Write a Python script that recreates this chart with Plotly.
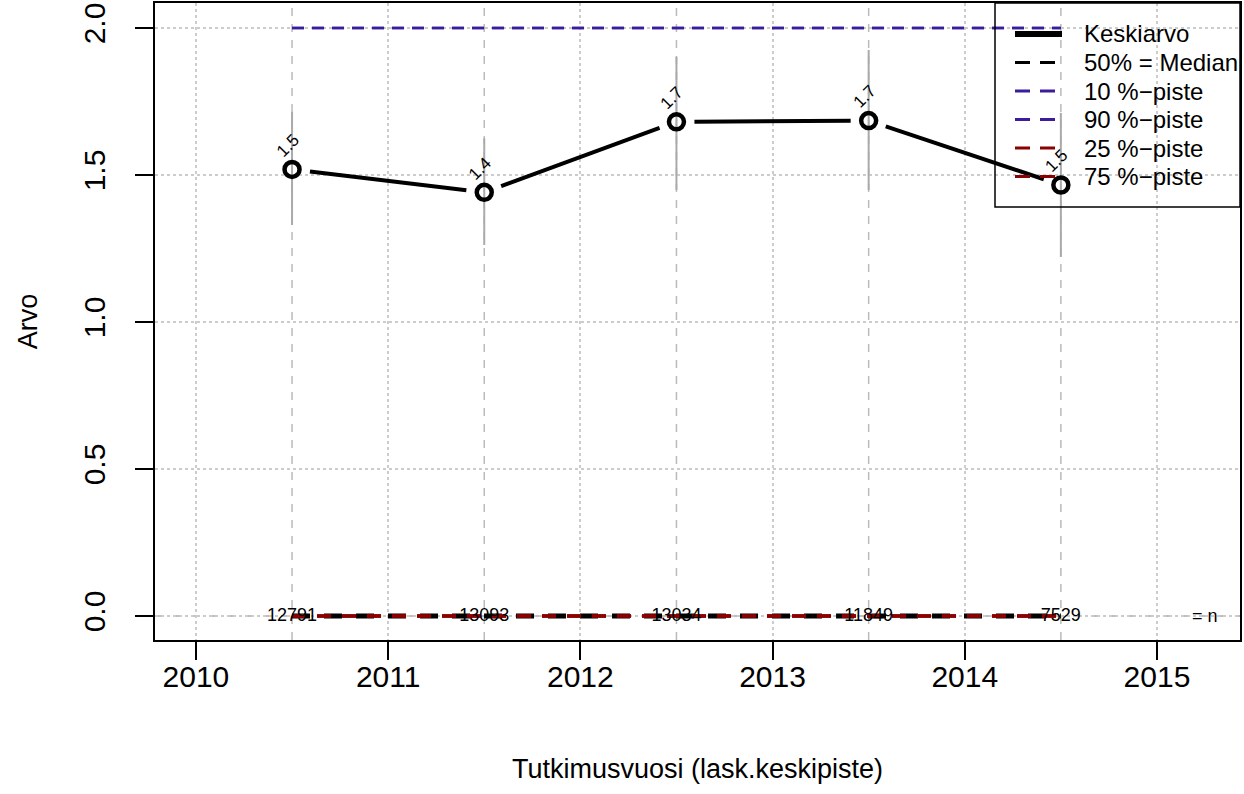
import plotly.graph_objects as go

# ---- data ----
years = [2010.5, 2011.5, 2012.5, 2013.5, 2014.5]
mean_vals = [1.519, 1.441, 1.681, 1.685, 1.466]
low_vals = [1.330, 1.262, 1.449, 1.449, 1.221]
high_vals = [1.715, 1.625, 1.902, 1.925, 1.711]
median_vals = [0, 0, 0, 0, 0]
p10_vals = [2, 2, 2, 2, 2]
p90_vals = [2, 2, 2, 2, 2]
p25_vals = [0, 0, 0, 0, 0]
p75_vals = [0, 0, 0, 0, 0]
n_vals = [12791, 13093, 13034, 11849, 7529]
x_ticks = [2010, 2011, 2012, 2013, 2014, 2015]
y_ticks = [0.0, 0.5, 1.0, 1.5, 2.0]
y_tick_labels = ["0.0", "0.5", "1.0", "1.5", "2.0"]
legend_labels = ["Keskiarvo", "50% = Median", "10 %\u2212piste", "90 %\u2212piste",
                 "25 %\u2212piste", "75 %\u2212piste"]

# ---- layout geometry ----
W, H = 1244, 794
ML, MR, MT, MB = 155, 4, 3, 154
PW, PH = W - ML - MR, H - MT - MB
xr = [2009.787, 2015.432]
yr = [-0.0816, 2.085]

FONT = "Liberation Sans, Arial, Helvetica, sans-serif"
BLUE = "#3A1C9C"
RED = "#8B0000"

def to_px(x, y):
    return ((x - xr[0]) / (xr[1] - xr[0]) * PW, (y - yr[0]) / (yr[1] - yr[0]) * PH)

def to_data(px, py):
    return (xr[0] + px / PW * (xr[1] - xr[0]), yr[0] + py / PH * (yr[1] - yr[0]))

def px2paper(xp, yp):
    # absolute page pixel -> paper coords
    return ((xp - ML) / PW, (H - MB - yp) / PH)

fig = go.Figure()

# grey range bars
bx, by = [], []
for x, lo, hi in zip(years, low_vals, high_vals):
    bx += [x, x, None]
    by += [lo, hi, None]
fig.add_trace(go.Scatter(x=bx, y=by, mode="lines", line=dict(color="#AAAAAA", width=2),
                         showlegend=False, hoverinfo="skip"))

# percentile lines
fig.add_trace(go.Scatter(x=years, y=p10_vals, mode="lines", name=legend_labels[2],
                         line=dict(color=BLUE, width=2.5, dash="12px,8px"), showlegend=False))
fig.add_trace(go.Scatter(x=years, y=p90_vals, mode="lines", name=legend_labels[3],
                         line=dict(color=BLUE, width=2.5, dash="12px,8px"), showlegend=False))
fig.add_trace(go.Scatter(x=years, y=median_vals, mode="lines", name=legend_labels[1],
                         line=dict(color="black", width=5, dash="18px,14px"), showlegend=False))
fig.add_trace(go.Scatter(x=years, y=p25_vals, mode="lines", name=legend_labels[4],
                         line=dict(color=RED, width=3.5, dash="14px,11px"), showlegend=False))
fig.add_trace(go.Scatter(x=years, y=p75_vals, mode="lines", name=legend_labels[5],
                         line=dict(color=RED, width=3.5, dash="14px,11px"), showlegend=False))

# mean line as segments with gaps around points (R type="b")
GAP = 18
sx, sy = [], []
for i in range(len(years) - 1):
    x0, y0 = to_px(years[i], mean_vals[i])
    x1, y1 = to_px(years[i + 1], mean_vals[i + 1])
    dx, dy = x1 - x0, y1 - y0
    L = (dx * dx + dy * dy) ** 0.5
    ux, uy = dx / L, dy / L
    a = to_data(x0 + ux * GAP, y0 + uy * GAP)
    b = to_data(x1 - ux * GAP, y1 - uy * GAP)
    sx += [a[0], b[0], None]
    sy += [a[1], b[1], None]
fig.add_trace(go.Scatter(x=sx, y=sy, mode="lines", line=dict(color="black", width=4),
                         name=legend_labels[0], showlegend=False, hoverinfo="skip"))
fig.add_trace(go.Scatter(x=years, y=mean_vals, mode="markers", name=legend_labels[0],
                         marker=dict(symbol="circle-open", size=15, color="black",
                                     line=dict(width=4.5, color="black")),
                         showlegend=False))

# n labels
fig.add_trace(go.Scatter(x=years, y=[0] * len(years), mode="text",
                         text=[str(n) for n in n_vals],
                         textfont=dict(size=18, color="black", family=FONT),
                         showlegend=False, hoverinfo="skip"))

annotations = []
for x, m in zip(years, mean_vals):
    annotations.append(dict(x=x, y=m, xref="x", yref="y", text=f"{m:.1f}", showarrow=False,
                            textangle=-45, xshift=-4, yshift=24,
                            font=dict(size=17, color="black", family=FONT)))
annotations.append(dict(x=2015.25, y=0, xref="x", yref="y", text="= n", showarrow=False,
                        font=dict(size=18, color="black", family=FONT)))

shapes = []
for x in years:
    shapes.append(dict(type="line", xref="x", yref="paper", x0=x, x1=x, y0=0, y1=1,
                       line=dict(color="#BBBBBB", width=1.5, dash="8px,8px"), layer="below"))
shapes.append(dict(type="line", xref="paper", yref="y", x0=0, x1=1, y0=0, y1=0,
                   line=dict(color="#AAAAAA", width=1.5, dash="dashdot"), layer="below"))

# ---- manual legend (R-style) ----
lx0, ly0 = px2paper(995, 207)
lx1, ly1 = px2paper(1240, 3)
shapes.append(dict(type="rect", xref="paper", yref="paper", x0=lx0, x1=lx1, y0=ly0, y1=ly1,
                   line=dict(color="black", width=1.5), fillcolor="rgba(0,0,0,0)", layer="above"))
leg_styles = [
    dict(color="black", width=6, dash="solid"),
    dict(color="black", width=3, dash="15px,10px"),
    dict(color=BLUE, width=3, dash="15px,10px"),
    dict(color=BLUE, width=3, dash="15px,10px"),
    dict(color=RED, width=3, dash="15px,10px"),
    dict(color=RED, width=3, dash="15px,10px"),
]
row_y0, row_dy = 34, 28.5
for i, (lab, st) in enumerate(zip(legend_labels, leg_styles)):
    yp = row_y0 + i * row_dy
    xa, ya = px2paper(1015, yp)
    xb, _ = px2paper(1062 if i == 0 else 1057, yp)
    shapes.append(dict(type="line", xref="paper", yref="paper", x0=xa, x1=xb, y0=ya, y1=ya,
                       line=st, layer="above"))
    xt, yt = px2paper(1082, yp)
    annotations.append(dict(x=xt, y=yt, xref="paper", yref="paper", text=lab, showarrow=False,
                            xanchor="left", yanchor="middle",
                            font=dict(size=24, color="black", family=FONT)))

fig.update_layout(
    width=W, height=H,
    margin=dict(l=ML, r=MR, t=MT, b=MB, autoexpand=False),
    paper_bgcolor="white", plot_bgcolor="white",
    font=dict(family=FONT, size=26, color="black"),
    showlegend=False,
    annotations=annotations,
    shapes=shapes,
    xaxis=dict(range=xr, tickvals=x_ticks, ticktext=[str(t) for t in x_ticks],
               showline=True, mirror=True, linecolor="black", linewidth=2,
               ticks="outside", ticklen=18, tickwidth=2, tickcolor="black",
               showgrid=True, gridcolor="#CCCCCC", griddash="dot", gridwidth=1.5,
               zeroline=False, tickfont=dict(size=30), automargin=False,
               ticklabelstandoff=-9,
               title=dict(text="Tutkimusvuosi (lask.keskipiste)", standoff=67, font=dict(size=27))),
    yaxis=dict(range=yr, tickvals=y_ticks, ticktext=y_tick_labels, tickangle=-90,
               showline=True, mirror=True, linecolor="black", linewidth=2,
               ticks="outside", ticklen=18, tickwidth=2, tickcolor="black",
               showgrid=True, gridcolor="#CCCCCC", griddash="dot", gridwidth=1.5,
               zeroline=False, tickfont=dict(size=30), automargin=False,
               ticklabelstandoff=18,
               title=dict(text="Arvo", standoff=33, font=dict(size=27))),
)

fig.write_html("out.html", config={"displayModeBar": False},
               post_script="document.body.style.margin='0';")
